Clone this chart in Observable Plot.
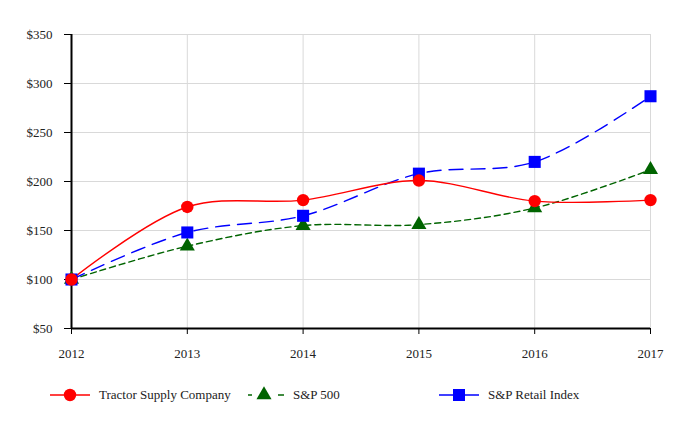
<!DOCTYPE html>
<html>
<head>
<meta charset="utf-8">
<script src="https://cdn.jsdelivr.net/npm/d3@7"></script>
<script src="https://cdn.jsdelivr.net/npm/@observablehq/plot@0.6"></script>
<style>
  body { margin: 0; background: #fff; font-family: "Liberation Serif", "DejaVu Serif", serif; }
  #wrap { position: relative; width: 684px; height: 430px; }
  .leg { position: absolute; top: 384px; height: 22px; display: flex; align-items: center; font-size: 13px; color: #222; }
  .leg svg { margin-right: 9px; }
</style>
</head>
<body>
<div id="wrap">
  <div id="chart"></div>
</div>
<script>
const years = [2012, 2013, 2014, 2015, 2016, 2017];
const seriesNames = ["Tractor Supply Company", "S&P 500", "S&P Retail Index"];
const tractor = [100, 174, 181, 201, 180, 181];
const sp500 = [100, 134, 155, 156, 173, 212];
const retail = [100, 148, 165, 208, 220, 287];
const yTicks = [50, 100, 150, 200, 250, 300, 350];

const colors = {"Tractor Supply Company": "#ff0000", "S&P 500": "#006400", "S&P Retail Index": "#0000ff"};
const symbols = {"Tractor Supply Company": "circle", "S&P 500": "triangle", "S&P Retail Index": "square"};
const dashes = {"Tractor Supply Company": null, "S&P 500": "6,4", "S&P Retail Index": "14,8"};
const radii = {"Tractor Supply Company": 6.2, "S&P 500": 5.6, "S&P Retail Index": 6.8};
const values = {"Tractor Supply Company": tractor, "S&P 500": sp500, "S&P Retail Index": retail};

const rows = s => years.map((y, i) => ({year: y, value: values[s][i], series: s}));
const drawOrder = ["S&P 500", "S&P Retail Index", "Tractor Supply Company"];

const marks = [
  Plot.gridY(yTicks.slice(1), {stroke: "#d9d9d9", strokeOpacity: 1, strokeWidth: 1}),
  Plot.gridX(years.slice(1), {stroke: "#d9d9d9", strokeOpacity: 1, strokeWidth: 1}),
  Plot.axisY(yTicks, {tickSize: 7, tickPadding: 12, tickFormat: d => "$" + d, fontSize: 13, stroke: "#000"}),
  Plot.axisX(years, {tickSize: 6, tickPadding: 14, tickFormat: d => String(d), fontSize: 13, stroke: "#000"}),
  Plot.ruleX([2012], {stroke: "#000", strokeWidth: 2}),
  Plot.ruleY([50], {stroke: "#000", strokeWidth: 2})
];
for (const s of drawOrder) {
  marks.push(Plot.line(rows(s), {x: "year", y: "value", stroke: colors[s], strokeWidth: 1.4, curve: "catmull-rom", strokeDasharray: dashes[s]}));
}
for (const s of drawOrder) {
  marks.push(Plot.dot(rows(s), {x: "year", y: "value", fill: colors[s], symbol: symbols[s], r: radii[s]}));
}

const chart = Plot.plot({
  width: 684,
  height: 370,
  marginTop: 34,
  marginLeft: 71,
  marginRight: 34,
  marginBottom: 42,
  style: {fontFamily: "'Liberation Serif', serif", fontSize: "13px", color: "#222", background: "#fff"},
  x: {domain: [2012, 2017], label: null},
  y: {domain: [50, 350], label: null},
  marks
});
document.getElementById("chart").appendChild(chart);

// legend
const legPos = {"Tractor Supply Company": 50, "S&P 500": 244, "S&P Retail Index": 439};
const wrap = document.getElementById("wrap");
for (const s of seriesNames) {
  const div = document.createElement("div");
  div.className = "leg";
  div.style.left = legPos[s] + "px";
  const sw = d3.create("svg").attr("width", 40).attr("height", 20);
  if (s === "S&P 500") {
    sw.append("line").attr("x1", 4).attr("x2", 8).attr("y1", 10).attr("y2", 10).attr("stroke", colors[s]).attr("stroke-width", 1.5);
    sw.append("line").attr("x1", 34).attr("x2", 40).attr("y1", 10).attr("y2", 10).attr("stroke", colors[s]).attr("stroke-width", 1.5);
  } else {
    sw.append("line").attr("x1", 0).attr("x2", 40).attr("y1", 10).attr("y2", 10).attr("stroke", colors[s]).attr("stroke-width", 1.5);
  }
  const symType = {circle: d3.symbolCircle, triangle: d3.symbolTriangle, square: d3.symbolSquare}[symbols[s]];
  sw.append("path").attr("transform", "translate(20,10)")
    .attr("d", d3.symbol(symType, Math.PI * radii[s] * radii[s])())
    .attr("fill", colors[s]);
  div.appendChild(sw.node());
  const t = document.createElement("span");
  t.textContent = s;
  div.appendChild(t);
  wrap.appendChild(div);
}
</script>
</body>
</html>
